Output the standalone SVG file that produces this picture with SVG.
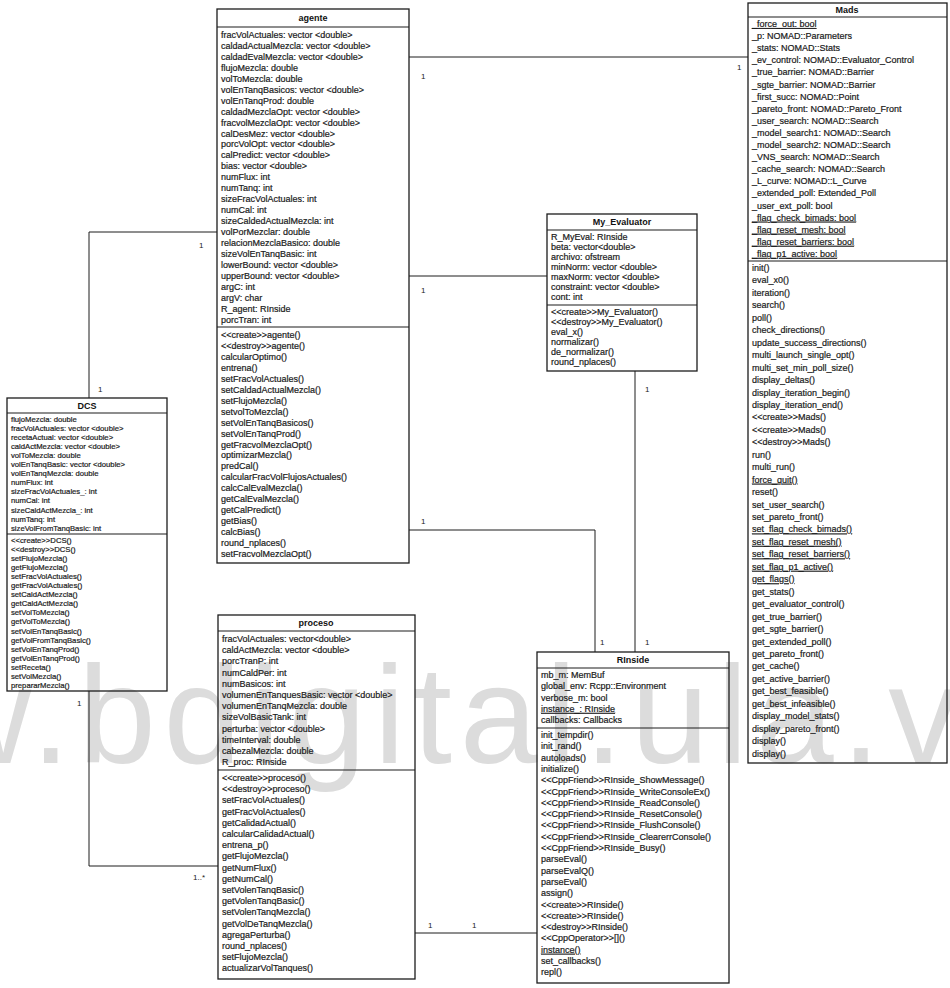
<svg xmlns="http://www.w3.org/2000/svg" width="950" height="988" viewBox="0 0 950 988">
<style>
.box{fill:none;stroke:#1c1c1c;stroke-width:1.3}
.sep{stroke:#1c1c1c;stroke-width:1.1}
.t{font-family:"Liberation Sans",Arial,sans-serif;font-size:9px;fill:#1a1a1a;stroke:#1a1a1a;stroke-width:0.2}
.s{font-size:7.7px}
.h{font-family:"Liberation Sans",Arial,sans-serif;font-size:9px;font-weight:bold;fill:#111;text-anchor:middle}
.u{text-decoration:underline}
.c{stroke:#1c1c1c;stroke-width:1;fill:none}
.m{font-family:"Liberation Sans",Arial,sans-serif;font-size:8px;fill:#1a1a1a}
.wm{font-family:"Liberation Sans",Arial,sans-serif;font-size:140px;letter-spacing:7.85px;fill:#dcdcdc}
</style>
<rect width="950" height="988" fill="#ffffff"/>
<!-- faint site stamp running across the lower half -->
<text class="wm" x="-288" y="763">www.bdigital.ula.ve</text>

<g id="connectors">
  <polyline class="c" points="409,57 748,57"/>
  <polyline class="c" points="409,276 547,276"/>
  <polyline class="c" points="217,232 89,232 89,398"/>
  <polyline class="c" points="89,691 89,866 218,866"/>
  <polyline class="c" points="409,530 595,530 595,652"/>
  <polyline class="c" points="635,371 635,652"/>
  <polyline class="c" points="415,933 537,933"/>
  <text class="m" x="421" y="79">1</text>
  <text class="m" x="737" y="70">1</text>
  <text class="m" x="421" y="293">1</text>
  <text class="m" x="199" y="248">1</text>
  <text class="m" x="98" y="392">1</text>
  <text class="m" x="77" y="706">1</text>
  <text class="m" x="193" y="880">1..*</text>
  <text class="m" x="421" y="524">1</text>
  <text class="m" x="600" y="645">1</text>
  <text class="m" x="645" y="392">1</text>
  <text class="m" x="645" y="645">1</text>
  <text class="m" x="428" y="928">1</text>
  <text class="m" x="472" y="928">1</text>
</g>

<g id="agente">
  <rect class="box" x="217" y="9" width="192" height="554"/>
  <line class="sep" x1="217" y1="27" x2="409" y2="27"/>
  <line class="sep" x1="217" y1="327" x2="409" y2="327"/>
  <text class="h" x="313" y="21">agente</text>
  <text class="t" x="221" y="38">
    <tspan x="221" dy="0">fracVolActuales: vector &lt;double&gt;</tspan>
    <tspan x="221" dy="10.95">caldadActualMezcla: vector &lt;double&gt;</tspan>
    <tspan x="221" dy="10.95">caldadEvalMezcla: vector &lt;double&gt;</tspan>
    <tspan x="221" dy="10.95">flujoMezcla: double</tspan>
    <tspan x="221" dy="10.95">volToMezcla: double</tspan>
    <tspan x="221" dy="10.95">volEnTanqBasicos: vector &lt;double&gt;</tspan>
    <tspan x="221" dy="10.95">volEnTanqProd: double</tspan>
    <tspan x="221" dy="10.95">caldadMezclaOpt: vector &lt;double&gt;</tspan>
    <tspan x="221" dy="10.95">fracvolMezclaOpt: vector &lt;double&gt;</tspan>
    <tspan x="221" dy="10.95">calDesMez: vector &lt;double&gt;</tspan>
    <tspan x="221" dy="10.95">porcVolOpt: vector &lt;double&gt;</tspan>
    <tspan x="221" dy="10.95">calPredict: vector &lt;double&gt;</tspan>
    <tspan x="221" dy="10.95">bias: vector &lt;double&gt;</tspan>
    <tspan x="221" dy="10.95">numFlux: int</tspan>
    <tspan x="221" dy="10.95">numTanq: int</tspan>
    <tspan x="221" dy="10.95">sizeFracVolActuales: int</tspan>
    <tspan x="221" dy="10.95">numCal: int</tspan>
    <tspan x="221" dy="10.95">sizeCaldedActualMezcla: int</tspan>
    <tspan x="221" dy="10.95">volPorMezclar: double</tspan>
    <tspan x="221" dy="10.95">relacionMezclaBasico: double</tspan>
    <tspan x="221" dy="10.95">sizeVolEnTanqBasic: int</tspan>
    <tspan x="221" dy="10.95">lowerBound: vector &lt;double&gt;</tspan>
    <tspan x="221" dy="10.95">upperBound: vector &lt;double&gt;</tspan>
    <tspan x="221" dy="10.95">argC: int</tspan>
    <tspan x="221" dy="10.95">argV: char</tspan>
    <tspan x="221" dy="10.95">R_agent: RInside</tspan>
    <tspan x="221" dy="10.95">porcTran: int</tspan>
  </text>
  <text class="t" x="221" y="338">
    <tspan x="221" dy="0">&lt;&lt;create&gt;&gt;agente()</tspan>
    <tspan x="221" dy="10.95">&lt;&lt;destroy&gt;&gt;agente()</tspan>
    <tspan x="221" dy="10.95">calcularOptimo()</tspan>
    <tspan x="221" dy="10.95">entrena()</tspan>
    <tspan x="221" dy="10.95">setFracVolActuales()</tspan>
    <tspan x="221" dy="10.95">setCaldadActualMezcla()</tspan>
    <tspan x="221" dy="10.95">setFlujoMezcla()</tspan>
    <tspan x="221" dy="10.95">setvolToMezcla()</tspan>
    <tspan x="221" dy="10.95">setVolEnTanqBasicos()</tspan>
    <tspan x="221" dy="10.95">setVolEnTanqProd()</tspan>
    <tspan x="221" dy="10.95">getFracvolMezclaOpt()</tspan>
    <tspan x="221" dy="10.95">optimizarMezcla()</tspan>
    <tspan x="221" dy="10.95">predCal()</tspan>
    <tspan x="221" dy="10.95">calcularFracVolFlujosActuales()</tspan>
    <tspan x="221" dy="10.95">calcCalEvalMezcla()</tspan>
    <tspan x="221" dy="10.95">getCalEvalMezcla()</tspan>
    <tspan x="221" dy="10.95">getCalPredict()</tspan>
    <tspan x="221" dy="10.95">getBias()</tspan>
    <tspan x="221" dy="10.95">calcBias()</tspan>
    <tspan x="221" dy="10.95">round_nplaces()</tspan>
    <tspan x="221" dy="10.95">setFracvolMezclaOpt()</tspan>
  </text>
</g>

<g id="Mads">
  <rect class="box" x="748" y="3" width="199" height="760"/>
  <line class="sep" x1="748" y1="17" x2="947" y2="17"/>
  <line class="sep" x1="748" y1="261" x2="947" y2="261"/>
  <text class="h" x="847" y="13">Mads</text>
  <text class="t" x="752" y="27">
    <tspan x="752" dy="0" class="u">_force_out: bool</tspan>
    <tspan x="752" dy="12.1">_p: NOMAD::Parameters</tspan>
    <tspan x="752" dy="12.1">_stats: NOMAD::Stats</tspan>
    <tspan x="752" dy="12.1">_ev_control: NOMAD::Evaluator_Control</tspan>
    <tspan x="752" dy="12.1">_true_barrier: NOMAD::Barrier</tspan>
    <tspan x="752" dy="12.1">_sgte_barrier: NOMAD::Barrier</tspan>
    <tspan x="752" dy="12.1">_first_succ: NOMAD::Point</tspan>
    <tspan x="752" dy="12.1">_pareto_front: NOMAD::Pareto_Front</tspan>
    <tspan x="752" dy="12.1">_user_search: NOMAD::Search</tspan>
    <tspan x="752" dy="12.1">_model_search1: NOMAD::Search</tspan>
    <tspan x="752" dy="12.1">_model_search2: NOMAD::Search</tspan>
    <tspan x="752" dy="12.1">_VNS_search: NOMAD::Search</tspan>
    <tspan x="752" dy="12.1">_cache_search: NOMAD::Search</tspan>
    <tspan x="752" dy="12.1">_L_curve: NOMAD::L_Curve</tspan>
    <tspan x="752" dy="12.1">_extended_poll: Extended_Poll</tspan>
    <tspan x="752" dy="12.1">_user_ext_poll: bool</tspan>
    <tspan x="752" dy="12.1" class="u">_flag_check_bimads: bool</tspan>
    <tspan x="752" dy="12.1" class="u">_flag_reset_mesh: bool</tspan>
    <tspan x="752" dy="12.1" class="u">_flag_reset_barriers: bool</tspan>
    <tspan x="752" dy="12.1" class="u">_flag_p1_active: bool</tspan>
  </text>
  <text class="t" x="752" y="271">
    <tspan x="752" dy="0">init()</tspan>
    <tspan x="752" dy="12.45">eval_x0()</tspan>
    <tspan x="752" dy="12.45">iteration()</tspan>
    <tspan x="752" dy="12.45">search()</tspan>
    <tspan x="752" dy="12.45">poll()</tspan>
    <tspan x="752" dy="12.45">check_directions()</tspan>
    <tspan x="752" dy="12.45">update_success_directions()</tspan>
    <tspan x="752" dy="12.45">multi_launch_single_opt()</tspan>
    <tspan x="752" dy="12.45">multi_set_min_poll_size()</tspan>
    <tspan x="752" dy="12.45">display_deltas()</tspan>
    <tspan x="752" dy="12.45">display_iteration_begin()</tspan>
    <tspan x="752" dy="12.45">display_iteration_end()</tspan>
    <tspan x="752" dy="12.45">&lt;&lt;create&gt;&gt;Mads()</tspan>
    <tspan x="752" dy="12.45">&lt;&lt;create&gt;&gt;Mads()</tspan>
    <tspan x="752" dy="12.45">&lt;&lt;destroy&gt;&gt;Mads()</tspan>
    <tspan x="752" dy="12.45">run()</tspan>
    <tspan x="752" dy="12.45">multi_run()</tspan>
    <tspan x="752" dy="12.45" class="u">force_quit()</tspan>
    <tspan x="752" dy="12.45">reset()</tspan>
    <tspan x="752" dy="12.45">set_user_search()</tspan>
    <tspan x="752" dy="12.45">set_pareto_front()</tspan>
    <tspan x="752" dy="12.45" class="u">set_flag_check_bimads()</tspan>
    <tspan x="752" dy="12.45" class="u">set_flag_reset_mesh()</tspan>
    <tspan x="752" dy="12.45" class="u">set_flag_reset_barriers()</tspan>
    <tspan x="752" dy="12.45" class="u">set_flag_p1_active()</tspan>
    <tspan x="752" dy="12.45" class="u">get_flags()</tspan>
    <tspan x="752" dy="12.45">get_stats()</tspan>
    <tspan x="752" dy="12.45">get_evaluator_control()</tspan>
    <tspan x="752" dy="12.45">get_true_barrier()</tspan>
    <tspan x="752" dy="12.45">get_sgte_barrier()</tspan>
    <tspan x="752" dy="12.45">get_extended_poll()</tspan>
    <tspan x="752" dy="12.45">get_pareto_front()</tspan>
    <tspan x="752" dy="12.45">get_cache()</tspan>
    <tspan x="752" dy="12.45">get_active_barrier()</tspan>
    <tspan x="752" dy="12.45">get_best_feasible()</tspan>
    <tspan x="752" dy="12.45">get_best_infeasible()</tspan>
    <tspan x="752" dy="12.45">display_model_stats()</tspan>
    <tspan x="752" dy="12.45">display_pareto_front()</tspan>
    <tspan x="752" dy="12.45">display()</tspan>
    <tspan x="752" dy="12.45">display()</tspan>
  </text>
</g>

<g id="My_Evaluator">
  <rect class="box" x="547" y="214" width="150" height="157"/>
  <line class="sep" x1="547" y1="230" x2="697" y2="230"/>
  <line class="sep" x1="547" y1="305" x2="697" y2="305"/>
  <text class="h" x="622" y="225">My_Evaluator</text>
  <text class="t" x="551" y="240">
    <tspan x="551" dy="0">R_MyEval: RInside</tspan>
    <tspan x="551" dy="10">beta: vector&lt;double&gt;</tspan>
    <tspan x="551" dy="10">archivo: ofstream</tspan>
    <tspan x="551" dy="10">minNorm: vector &lt;double&gt;</tspan>
    <tspan x="551" dy="10">maxNorm: vector &lt;double&gt;</tspan>
    <tspan x="551" dy="10">constraint: vector &lt;double&gt;</tspan>
    <tspan x="551" dy="10">cont: int</tspan>
  </text>
  <text class="t" x="551" y="315">
    <tspan x="551" dy="0">&lt;&lt;create&gt;&gt;My_Evaluator()</tspan>
    <tspan x="551" dy="10">&lt;&lt;destroy&gt;&gt;My_Evaluator()</tspan>
    <tspan x="551" dy="10">eval_x()</tspan>
    <tspan x="551" dy="10">normalizar()</tspan>
    <tspan x="551" dy="10">de_normalizar()</tspan>
    <tspan x="551" dy="10">round_nplaces()</tspan>
  </text>
</g>

<g id="DCS">
  <rect class="box" x="7" y="398" width="160" height="293"/>
  <line class="sep" x1="7" y1="413" x2="167" y2="413"/>
  <line class="sep" x1="7" y1="534" x2="167" y2="534"/>
  <text class="h" x="87" y="409">DCS</text>
  <text class="t s" x="11" y="422">
    <tspan x="11" dy="0">flujoMezcla: double</tspan>
    <tspan x="11" dy="9.05">fracVolActuales: vector &lt;double&gt;</tspan>
    <tspan x="11" dy="9.05">recetaActual: vector &lt;double&gt;</tspan>
    <tspan x="11" dy="9.05">caldActMezcla: vector &lt;double&gt;</tspan>
    <tspan x="11" dy="9.05">volToMezcla: double</tspan>
    <tspan x="11" dy="9.05">volEnTanqBasic: vector &lt;double&gt;</tspan>
    <tspan x="11" dy="9.05">volEnTanqMezcla: double</tspan>
    <tspan x="11" dy="9.05">numFlux: int</tspan>
    <tspan x="11" dy="9.05">sizeFracVolActuales_: int</tspan>
    <tspan x="11" dy="9.05">numCal: int</tspan>
    <tspan x="11" dy="9.05">sizeCaldActMezcla_: int</tspan>
    <tspan x="11" dy="9.05">numTanq: int</tspan>
    <tspan x="11" dy="9.05">sizeVolFromTanqBasic: int</tspan>
  </text>
  <text class="t s" x="11" y="543">
    <tspan x="11" dy="0">&lt;&lt;create&gt;&gt;DCS()</tspan>
    <tspan x="11" dy="9.05">&lt;&lt;destroy&gt;&gt;DCS()</tspan>
    <tspan x="11" dy="9.05">setFlujoMezcla()</tspan>
    <tspan x="11" dy="9.05">getFlujoMezcla()</tspan>
    <tspan x="11" dy="9.05">setFracVolActuales()</tspan>
    <tspan x="11" dy="9.05">getFracVolActuales()</tspan>
    <tspan x="11" dy="9.05">setCaldActMezcla()</tspan>
    <tspan x="11" dy="9.05">getCaldActMezcla()</tspan>
    <tspan x="11" dy="9.05">setVolToMezcla()</tspan>
    <tspan x="11" dy="9.05">getVolToMezcla()</tspan>
    <tspan x="11" dy="9.05">setVolEnTanqBasic()</tspan>
    <tspan x="11" dy="9.05">getVolFromTanqBasic()</tspan>
    <tspan x="11" dy="9.05">setVolEnTanqProd()</tspan>
    <tspan x="11" dy="9.05">getVolEnTanqProd()</tspan>
    <tspan x="11" dy="9.05">setReceta()</tspan>
    <tspan x="11" dy="9.05">setVolMezcla()</tspan>
    <tspan x="11" dy="9.05">prepararMezcla()</tspan>
  </text>
</g>

<g id="proceso">
  <rect class="box" x="218" y="615" width="197" height="364"/>
  <line class="sep" x1="218" y1="631" x2="415" y2="631"/>
  <line class="sep" x1="218" y1="770" x2="415" y2="770"/>
  <text class="h" x="316" y="626">proceso</text>
  <text class="t" x="222" y="642">
    <tspan x="222" dy="0">fracVolActuales: vector&lt;double&gt;</tspan>
    <tspan x="222" dy="11.2">caldActMezcla: vector &lt;double&gt;</tspan>
    <tspan x="222" dy="11.2">porcTranP: int</tspan>
    <tspan x="222" dy="11.2">numCaldPer: int</tspan>
    <tspan x="222" dy="11.2">numBasicos: int</tspan>
    <tspan x="222" dy="11.2">volumenEnTanquesBasic: vector &lt;double&gt;</tspan>
    <tspan x="222" dy="11.2">volumenEnTanqMezcla: double</tspan>
    <tspan x="222" dy="11.2">sizeVolBasicTank: int</tspan>
    <tspan x="222" dy="11.2">perturba: vector &lt;double&gt;</tspan>
    <tspan x="222" dy="11.2">timeInterval: double</tspan>
    <tspan x="222" dy="11.2">cabezalMezcla: double</tspan>
    <tspan x="222" dy="11.2">R_proc: RInside</tspan>
  </text>
  <text class="t" x="222" y="781">
    <tspan x="222" dy="0">&lt;&lt;create&gt;&gt;proceso()</tspan>
    <tspan x="222" dy="11.2">&lt;&lt;destroy&gt;&gt;proceso()</tspan>
    <tspan x="222" dy="11.2">setFracVolActuales()</tspan>
    <tspan x="222" dy="11.2">getFracVolActuales()</tspan>
    <tspan x="222" dy="11.2">getCalidadActual()</tspan>
    <tspan x="222" dy="11.2">calcularCalidadActual()</tspan>
    <tspan x="222" dy="11.2">entrena_p()</tspan>
    <tspan x="222" dy="11.2">getFlujoMezcla()</tspan>
    <tspan x="222" dy="11.2">getNumFlux()</tspan>
    <tspan x="222" dy="11.2">getNumCal()</tspan>
    <tspan x="222" dy="11.2">setVolenTanqBasic()</tspan>
    <tspan x="222" dy="11.2">getVolenTanqBasic()</tspan>
    <tspan x="222" dy="11.2">setVolenTanqMezcla()</tspan>
    <tspan x="222" dy="11.2">getVolDeTanqMezcla()</tspan>
    <tspan x="222" dy="11.2">agregaPerturba()</tspan>
    <tspan x="222" dy="11.2">round_nplaces()</tspan>
    <tspan x="222" dy="11.2">setFlujoMezcla()</tspan>
    <tspan x="222" dy="11.2">actualizarVolTanques()</tspan>
  </text>
</g>

<g id="RInside">
  <rect class="box" x="537" y="652" width="192" height="331"/>
  <line class="sep" x1="537" y1="668" x2="729" y2="668"/>
  <line class="sep" x1="537" y1="728" x2="729" y2="728"/>
  <text class="h" x="633" y="663">RInside</text>
  <text class="t" x="541" y="678">
    <tspan x="541" dy="0">mb_m: MemBuf</tspan>
    <tspan x="541" dy="11.3">global_env: Rcpp::Environment</tspan>
    <tspan x="541" dy="11.3">verbose_m: bool</tspan>
    <tspan x="541" dy="11.3" class="u">instance_: RInside</tspan>
    <tspan x="541" dy="11.3">callbacks: Callbacks</tspan>
  </text>
  <text class="t" x="541" y="738">
    <tspan x="541" dy="0">init_tempdir()</tspan>
    <tspan x="541" dy="11.3">init_rand()</tspan>
    <tspan x="541" dy="11.3">autoloads()</tspan>
    <tspan x="541" dy="11.3">initialize()</tspan>
    <tspan x="541" dy="11.3">&lt;&lt;CppFriend&gt;&gt;RInside_ShowMessage()</tspan>
    <tspan x="541" dy="11.3">&lt;&lt;CppFriend&gt;&gt;RInside_WriteConsoleEx()</tspan>
    <tspan x="541" dy="11.3">&lt;&lt;CppFriend&gt;&gt;RInside_ReadConsole()</tspan>
    <tspan x="541" dy="11.3">&lt;&lt;CppFriend&gt;&gt;RInside_ResetConsole()</tspan>
    <tspan x="541" dy="11.3">&lt;&lt;CppFriend&gt;&gt;RInside_FlushConsole()</tspan>
    <tspan x="541" dy="11.3">&lt;&lt;CppFriend&gt;&gt;RInside_ClearerrConsole()</tspan>
    <tspan x="541" dy="11.3">&lt;&lt;CppFriend&gt;&gt;RInside_Busy()</tspan>
    <tspan x="541" dy="11.3">parseEval()</tspan>
    <tspan x="541" dy="11.3">parseEvalQ()</tspan>
    <tspan x="541" dy="11.3">parseEval()</tspan>
    <tspan x="541" dy="11.3">assign()</tspan>
    <tspan x="541" dy="11.3">&lt;&lt;create&gt;&gt;RInside()</tspan>
    <tspan x="541" dy="11.3">&lt;&lt;create&gt;&gt;RInside()</tspan>
    <tspan x="541" dy="11.3">&lt;&lt;destroy&gt;&gt;RInside()</tspan>
    <tspan x="541" dy="11.3">&lt;&lt;CppOperator&gt;&gt;[]()</tspan>
    <tspan x="541" dy="11.3" class="u">instance()</tspan>
    <tspan x="541" dy="11.3">set_callbacks()</tspan>
    <tspan x="541" dy="11.3">repl()</tspan>
  </text>
</g>
</svg>
